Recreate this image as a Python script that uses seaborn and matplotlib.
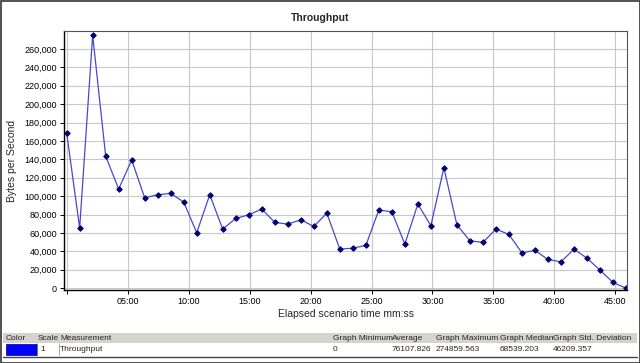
import matplotlib
matplotlib.use("Agg")
import matplotlib.pyplot as plt
import matplotlib.ticker as mticker
from matplotlib.patches import Rectangle
import seaborn as sns
import pandas as pd

# ----------------------------------- Data ----------------------------------

elapsed_sec = [0, 64, 128, 192, 256, 320, 384, 448, 512, 576, 640, 704, 768, 832,
               896, 960, 1024, 1088, 1152, 1216, 1280, 1344, 1408, 1472, 1536, 1600,
               1664, 1728, 1792, 1856, 1920, 1984, 2048, 2112, 2176, 2240, 2304, 2368,
               2432, 2496, 2560, 2624, 2688, 2752]
throughput = [169000, 65300, 274860, 143600, 107700, 139300, 98200, 101500, 103000,
              93600, 60200, 101500, 64200, 75800, 79700, 86000, 71500, 69600, 74300,
              67100, 81600, 42400, 43500, 46400, 84900, 83000, 47900, 91400, 67800,
              130900, 68900, 51500, 49700, 64200, 58400, 38400, 41000, 31200, 28600,
              42400, 32600, 19600, 6200, 0]

legend_headers = ["Color", "Scale", "Measurement", "Graph Minimum", "Average",
                  "Graph Maximum", "Graph Median", "Graph Std. Deviation"]
legend_values = ["", "1", "Throughput", "0", "76107.826", "274859.563",
                 "68539.203", "46209.357"]

df = pd.DataFrame({"t": elapsed_sec, "bps": throughput})

# ----------------------------------- Figure ----------------------------------

sns.set_style("white")
plt.rcParams["font.family"] = ["Liberation Sans", "DejaVu Sans"]

W, H = 640, 363
fig = plt.figure(figsize=(6.4, 3.63), dpi=100)
fig.patch.set_facecolor("white")

def px(x0, y0, x1, y1):
    return [x0 / W, 1 - y1 / H, (x1 - x0) / W, (y1 - y0) / H]

ax = fig.add_axes(px(64, 31, 627, 290))

sns.lineplot(data=df, x="t", y="bps", ax=ax, color="#4848d0", linewidth=0.9,
             marker="D", markersize=2.8, markerfacecolor="#000070",
             markeredgecolor="#000070")

ax.set_xlim(-13, 2757)
ax.set_ylim(-2000, 279500)

ax.xaxis.set_major_locator(mticker.MultipleLocator(300))
ax.xaxis.set_minor_locator(mticker.MultipleLocator(60))
ax.xaxis.set_major_formatter(mticker.FuncFormatter(
    lambda v, p: "" if v <= 0 else "%02d:%02d" % (int(v) // 60, int(v) % 60)))
ax.yaxis.set_major_locator(mticker.MultipleLocator(20000))
ax.yaxis.set_minor_locator(mticker.MultipleLocator(5000))
ax.yaxis.set_major_formatter(mticker.FuncFormatter(lambda v, p: "{:,.0f}".format(v)))

ax.grid(True, which="major", color="#c8c8c8", linewidth=0.8)
ax.set_axisbelow(True)
ax.tick_params(axis="both", which="major", labelsize=6.5, length=3, width=0.7,
               direction="out", colors="black", pad=2)
ax.tick_params(axis="both", which="minor", length=2, width=0.6, direction="out")
ax.tick_params(left=True, bottom=True)
for s in ["top", "right"]:
    ax.spines[s].set_color("#555555")
    ax.spines[s].set_linewidth(0.8)
for s in ["left", "bottom"]:
    ax.spines[s].set_color("black")
    ax.spines[s].set_linewidth(1.0)

ax.set_xlabel("Elapsed scenario time mm:ss", fontsize=7.5, labelpad=2)
ax.set_ylabel("Bytes per Second", fontsize=7.5, labelpad=5)
fig.text(320 / W, 1 - 18 / H, "Throughput", ha="center", va="center",
         fontsize=7.5, fontweight="bold")

# ----------------------------------- Legend table ----------------------------------

fig.patches.append(Rectangle((3 / W, 1 - 343 / H), 634 / W, 10 / H,
                             transform=fig.transFigure, facecolor="#d6d3ce",
                             edgecolor="none"))
fig.patches.append(Rectangle((6 / W, 1 - 355 / H), 31 / W, 11 / H,
                             transform=fig.transFigure, facecolor="#0000ff",
                             edgecolor="#000080", linewidth=0.5))
col_x = [6, 38, 60, 333, 392, 436, 500, 553]
for x, h, v in zip(col_x, legend_headers, legend_values):
    fig.text(x / W, 1 - 338 / H, h, ha="left", va="center", fontsize=6)
    if v:
        fig.text((x + 2 if x == 38 else x) / W, 1 - 349.5 / H, v, ha="left",
                 va="center", fontsize=6)
for x in col_x[1:3]:
    fig.lines.append(plt.Line2D([x / W - 0.002] * 2, [1 - 355 / H, 1 - 343 / H],
                                transform=fig.transFigure, color="#888888",
                                linewidth=0.5))
fig.lines.append(plt.Line2D([3 / W, 637 / W], [1 - 357 / H] * 2,
                            transform=fig.transFigure, color="#444444", linewidth=1))

# window frame
fig.patches.append(Rectangle((0.5 / W, 0.5 / H), 639 / W, 362 / H,
                             transform=fig.transFigure, facecolor="none",
                             edgecolor="#333333", linewidth=1.2))

fig.savefig("out.png", dpi=100)
